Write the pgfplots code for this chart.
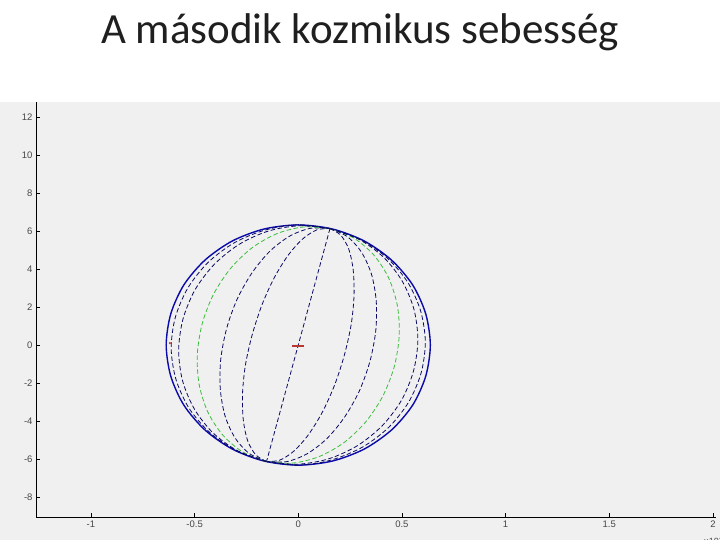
\documentclass[border=0pt]{standalone}
\usepackage{fontspec}
\setmainfont{Liberation Sans}
\newfontfamily\titlefont{Carlito}
\usepackage{pgfplots}
\pgfplotsset{compat=1.18}

\definecolor{figgray}{RGB}{240,240,240}
\definecolor{orbitblue}{RGB}{10,10,170}
\definecolor{navy}{RGB}{10,10,100}
\definecolor{orbitgreen}{RGB}{60,190,60}
\definecolor{markred}{RGB}{185,55,45}
\definecolor{ticktext}{RGB}{70,70,70}

\begin{document}
\begin{tikzpicture}
\useasboundingbox (0,0) rectangle (720pt,540pt);
\clip (0,0) rectangle (720pt,540pt);
\fill[white] (0,0) rectangle (720pt,540pt);
\fill[figgray] (0,0) rectangle (720pt,438pt);

\node[anchor=base, font=\titlefont\fontsize{43}{48}\selectfont, text=black!88] at (360pt,496pt)
  {A második kozmikus sebesség};

\begin{axis}[
    at={(36pt,23pt)}, anchor=south west,
    scale only axis,
    width=680pt, height=415pt,
    xmin=-1.265, xmax=2.015,
    ymin=-9.05, ymax=12.79,
    axis x line*=bottom, axis y line*=left,
    axis line style={line width=0.8pt, black},
    tick align=inside,
    major tick length=4pt,
    tick style={line width=0.6pt, black},
    xtick={-1,-0.5,0,0.5,1,1.5,2},
    xticklabels={-1,-0.5,0,0.5,1,1.5,2},
    ytick={-8,-6,-4,-2,0,2,4,6,8,10,12},
    yticklabels={-8,-6,-4,-2,0,2,4,6,8,10,12},
    tick label style={font=\fontsize{9.5}{10}\selectfont, text=ticktext},
    dashed orbit/.style={navy, line width=0.8pt, dash pattern=on 4.5pt off 2.5pt, smooth},
]

% outer circular orbit
\addplot[orbitblue, line width=1.4pt, smooth cycle] coordinates {
  (0.637,0) (0.615,1.636) (0.552,3.16) (0.450,4.469) (0.3185,5.473) (0.165,6.105)
  (0,6.32) (-0.165,6.105) (-0.3185,5.473) (-0.450,4.469) (-0.552,3.16) (-0.615,1.636)
  (-0.637,0) (-0.615,-1.636) (-0.552,-3.16) (-0.450,-4.469) (-0.3185,-5.473) (-0.165,-6.105)
  (0,-6.32) (0.165,-6.105) (0.3185,-5.473) (0.450,-4.469) (0.552,-3.16) (0.615,-1.636)
};

% centre line
\addplot[dashed orbit] coordinates {(0.153,6.130) (-0.153,-6.130)};

% right-hand orbits
\addplot[dashed orbit] coordinates {
  (0.153,6.130) (0.205,5.780) (0.244,5.036) (0.265,3.949) (0.269,2.592) (0.255,1.060)
  (0.222,-0.546) (0.175,-2.115) (0.116,-3.538) (0.049,-4.721) (-0.021,-5.582) (-0.090,-6.062) (-0.153,-6.130)
};
\addplot[dashed orbit] coordinates {
  (0.153,6.130) (0.237,5.701) (0.305,4.884) (0.353,3.734) (0.376,2.329) (0.374,0.767)
  (0.346,-0.850) (0.295,-2.408) (0.223,-3.801) (0.137,-4.936) (0.041,-5.734) (-0.058,-6.141) (-0.153,-6.130)
};
\addplot[dashed orbit, orbitgreen] coordinates {
  (0.153,6.130) (0.268,5.627) (0.364,4.740) (0.436,3.531) (0.478,2.080) (0.487,0.488)
  (0.463,-1.138) (0.408,-2.686) (0.325,-4.050) (0.220,-5.140) (0.099,-5.878) (-0.028,-6.215) (-0.153,-6.130)
};
\addplot[dashed orbit] coordinates {
  (0.153,6.130) (0.292,5.568) (0.411,4.626) (0.501,3.370) (0.558,1.883) (0.577,0.268)
  (0.556,-1.365) (0.498,-2.906) (0.405,-4.247) (0.285,-5.300) (0.146,-5.992) (-0.004,-6.274) (-0.153,-6.130)
};
\addplot[dashed orbit] coordinates {
  (0.153,6.130) (0.301,5.544) (0.429,4.581) (0.528,3.305) (0.590,1.804) (0.613,0.180)
  (0.593,-1.456) (0.533,-2.994) (0.437,-4.326) (0.311,-5.365) (0.164,-6.037) (0.006,-6.328) (-0.153,-6.130)
};

% left-hand orbits
\addplot[dashed orbit] coordinates {
  (-0.153,-6.130) (-0.205,-5.780) (-0.244,-5.036) (-0.265,-3.949) (-0.269,-2.592) (-0.255,-1.060)
  (-0.222,0.546) (-0.175,2.115) (-0.116,3.538) (-0.049,4.721) (0.021,5.582) (0.090,6.062) (0.153,6.130)
};
\addplot[dashed orbit] coordinates {
  (-0.153,-6.130) (-0.237,-5.701) (-0.305,-4.884) (-0.353,-3.734) (-0.376,-2.329) (-0.374,-0.767)
  (-0.346,0.850) (-0.295,2.408) (-0.223,3.801) (-0.137,4.936) (-0.041,5.734) (0.058,6.141) (0.153,6.130)
};
\addplot[dashed orbit, orbitgreen] coordinates {
  (-0.153,-6.130) (-0.268,-5.627) (-0.364,-4.740) (-0.436,-3.531) (-0.478,-2.080) (-0.487,-0.488)
  (-0.463,1.138) (-0.408,2.686) (-0.325,4.050) (-0.220,5.140) (-0.099,5.878) (0.028,6.215) (0.153,6.130)
};
\addplot[dashed orbit] coordinates {
  (-0.153,-6.130) (-0.292,-5.568) (-0.411,-4.626) (-0.501,-3.370) (-0.558,-1.883) (-0.577,-0.268)
  (-0.556,1.365) (-0.498,2.906) (-0.405,4.247) (-0.285,5.300) (-0.146,5.992) (0.004,6.274) (0.153,6.130)
};
\addplot[dashed orbit] coordinates {
  (-0.153,-6.130) (-0.301,-5.544) (-0.429,-4.581) (-0.528,-3.305) (-0.590,-1.804) (-0.613,-0.180)
  (-0.593,1.456) (-0.533,2.994) (-0.437,4.326) (-0.311,5.365) (-0.164,6.037) (-0.006,6.328) (0.153,6.130)
};

% markers
\addplot[only marks, mark=-, mark size=6pt, markred, mark options={line width=1.6pt}] coordinates {(0,-0.05)};
\addplot[only marks, mark=*, mark size=0.8pt, markred] coordinates {(-0.619,0.1)};

\end{axis}

\node[anchor=north west, font=\fontsize{9}{10}\selectfont, text=ticktext] at (700pt,7pt) {×10$^{4}$};
\end{tikzpicture}
\end{document}
